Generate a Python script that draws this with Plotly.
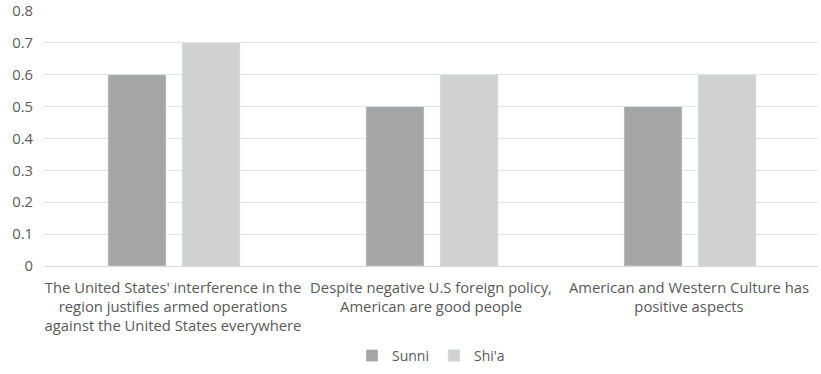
import plotly.graph_objects as go

categories = [
    "The United States' interference in the<br>region justifies armed operations<br>against the United States everywhere",
    "Despite negative U.S foreign policy,<br>American are good people",
    "American and Western Culture has<br>positive aspects",
]
sunni = [0.6, 0.5, 0.5]
shia = [0.7, 0.6, 0.6]

font = dict(family="Open Sans, sans-serif", size=14.8, color="#595959")

fig = go.Figure()
fig.add_trace(go.Bar(name="Sunni", x=categories, y=sunni, marker_color="#a5a5a5",
                     width=0.225, offset=-0.252))
fig.add_trace(go.Bar(name="Shi'a", x=categories, y=shia, marker_color="#d0d1d0",
                     width=0.225, offset=0.035))

fig.update_layout(
    width=821, height=374,
    margin=dict(l=44, r=3, t=11, b=108, autoexpand=False),
    paper_bgcolor="white", plot_bgcolor="white",
    font=font,
    barmode="group",
    showlegend=True,
    legend=dict(orientation="h", x=0.5, xanchor="center", y=-0.29, yanchor="top",
                font=dict(size=14, color="#595959"), itemwidth=30,
                tracegroupgap=0),
    xaxis=dict(showgrid=False, ticks="", tickfont=font, showline=False,
               ticklabelstandoff=11, automargin=False),
    yaxis=dict(range=[0, 0.8], dtick=0.1, showgrid=True, gridcolor="#e3e3e3",
               zeroline=True, zerolinecolor="#d9d9d9", zerolinewidth=1,
               ticks="", tickfont=font, ticklabelstandoff=10, automargin=False),
)

fig.write_html("out.html")
